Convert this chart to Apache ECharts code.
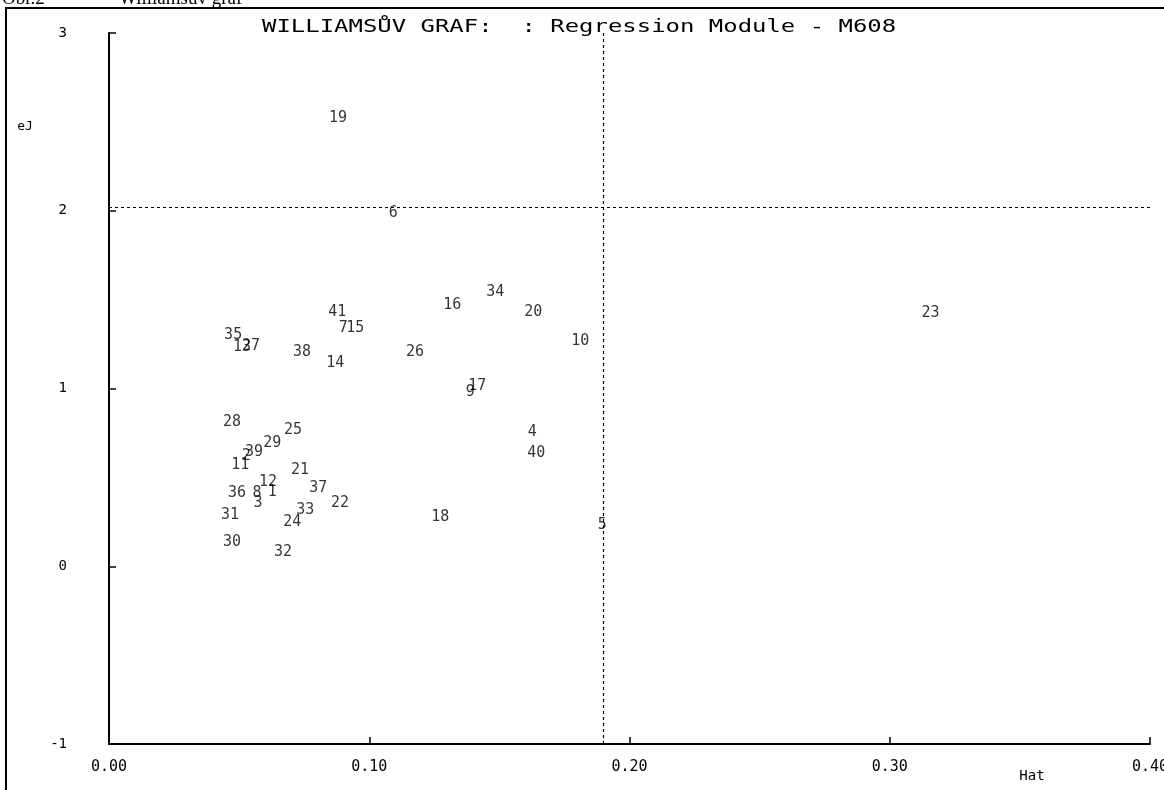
<!DOCTYPE html>
<html><head><meta charset="utf-8">
<script src="https://cdn.jsdelivr.net/npm/echarts@6/dist/echarts.min.js"></script>
<style>html,body{margin:0;padding:0;background:#fff}#c{width:1164px;height:790px}</style>
</head><body><div id="c"></div>
<script>
// Point labels (observation numbers), leverage (Hat) and jackknife residuals (eJ)
const pointIds = ['1','2','3','4','5','6','7','8','9','10','11','12','13','14','15','16','17','18','19','20','21','22','23','24','25','26','27','28','29','30','31','32','33','34','35','36','37','38','39','40','41'];
const hatValues = [0.0627,0.0527,0.0573,0.1626,0.1895,0.1092,0.0900,0.0569,0.1388,0.1811,0.0504,0.0611,0.0511,0.0869,0.0946,0.1319,0.1415,0.1273,0.0880,0.1630,0.0734,0.0888,0.3157,0.0704,0.0707,0.1176,0.0546,0.0473,0.0627,0.0473,0.0465,0.0669,0.0754,0.1484,0.0477,0.0492,0.0804,0.0742,0.0557,0.1642,0.0877];
const eJValues = [0.418,0.620,0.356,0.755,0.232,1.987,1.340,0.412,0.980,1.267,0.570,0.474,1.233,1.143,1.340,1.470,1.014,0.277,2.522,1.430,0.541,0.356,1.425,0.249,0.767,1.205,1.239,0.812,0.693,0.136,0.288,0.080,0.316,1.543,1.301,0.412,0.440,1.205,0.643,0.637,1.430];
const hatLimit = 0.19;
const eJLimit = 2.025;
const xAxisRange = [0, 0.4, 0.1];
const yAxisRange = [-1, 3, 1];
const titleText = 'WILLIAMSŮV GRAF:  : Regression Module - M608';
const xAxisName = 'Hat';
const yAxisName = 'eJ';

const mono = '"DejaVu Sans Mono", "Liberation Mono", monospace';
const points = pointIds.map((id, i) => ({ name: id, value: [hatValues[i], eJValues[i]] }));

const chart = echarts.init(document.getElementById('c'), null, { renderer: 'canvas' });
chart.setOption({
  animation: false,
  backgroundColor: '#ffffff',
  grid: { left: 109, top: 33, right: 14, bottom: 46, containLabel: false, outerBoundsMode: 'none' },
  xAxis: {
    type: 'value', min: xAxisRange[0], max: xAxisRange[1], interval: xAxisRange[2],
    axisLine: { show: true, onZero: false, lineStyle: { color: '#000', width: 2 } },
    axisTick: { show: true, inside: true, length: 7, lineStyle: { color: '#000', width: 1.5 } },
    axisLabel: { margin: 16, color: '#000', fontFamily: mono, fontSize: 15, formatter: v => v.toFixed(2) },
    splitLine: { show: false }
  },
  yAxis: {
    type: 'value', min: yAxisRange[0], max: yAxisRange[1], interval: yAxisRange[2],
    axisLine: { show: true, onZero: false, lineStyle: { color: '#000', width: 2 } },
    axisTick: { show: true, inside: true, length: 7, lineStyle: { color: '#000', width: 1.5 } },
    axisLabel: { margin: 42, padding: [6, 0, 0, 0], color: '#000', fontFamily: mono, fontSize: 14, formatter: v => String(v) },
    splitLine: { show: false }
  },
  series: [{
    type: 'scatter',
    data: points,
    symbol: 'circle',
    symbolSize: 1,
    itemStyle: { color: 'rgba(0,0,0,0)' },
    label: {
      show: true, position: 'inside', formatter: p => p.name,
      color: '#000', fontFamily: mono, fontSize: 15
    },
    emphasis: { disabled: true },
    markLine: {
      silent: true, symbol: 'none', animation: false,
      label: { show: false },
      lineStyle: { color: '#000', type: [3, 3], width: 1.2 },
      data: [{ xAxis: hatLimit }, { yAxis: eJLimit }]
    }
  }],
  graphic: [
    { type: 'rect', shape: { x: 6, y: 8, width: 1170, height: 800 }, style: { fill: 'none', stroke: '#000', lineWidth: 2 }, z: 10 },
    { type: 'text', x: 2, y: 9, style: { text: 'Obr.2', font: '19px "Liberation Serif", serif', fill: '#000', verticalAlign: 'bottom' } },
    { type: 'text', x: 100, y: 9, style: { text: '–  Williamsův graf', font: '19px "Liberation Serif", serif', fill: '#000', verticalAlign: 'bottom' } },
    { type: 'text', x: 262, y: 27, scaleX: 1.33, style: { text: titleText, font: '18px ' + mono, fill: '#000', verticalAlign: 'middle' } },
    { type: 'text', x: 25, y: 127, style: { text: yAxisName, font: '13px ' + mono, fill: '#000', align: 'center', verticalAlign: 'middle' } },
    { type: 'text', x: 1032, y: 776, style: { text: xAxisName, font: '14px ' + mono, fill: '#000', align: 'center', verticalAlign: 'middle' } }
  ]
});
</script></body></html>
